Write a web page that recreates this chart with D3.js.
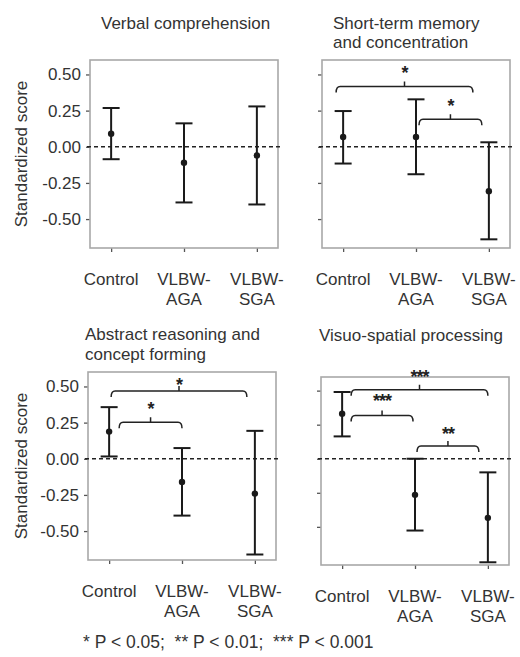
<!DOCTYPE html>
<html>
<head>
<meta charset="utf-8">
<script src="https://cdn.jsdelivr.net/npm/d3@7"></script>
<style>
  html, body { margin: 0; padding: 0; background: #fff; }
  svg { display: block; font-family: "Liberation Sans", Arial, sans-serif; }
</style>
</head>
<body>
<svg id="chart" width="520" height="657"></svg>
<script>
// Groups compared in every panel
const groups = ["Control", "VLBW-AGA", "VLBW-SGA"];
const groupLabelLines = [["Control"], ["VLBW-", "AGA"], ["VLBW-", "SGA"]];

// Panel titles (one entry per line)
const panelTitles = [
  ["Verbal comprehension"],
  ["Short-term memory", "and concentration"],
  ["Abstract reasoning and", "concept forming"],
  ["Visuo-spatial processing"]
];

// Mean standardized scores and their 95% confidence limits, per panel and group
const means = [
  [0.09, -0.11, -0.06],
  [0.068, 0.068, -0.307],
  [0.188, -0.16, -0.241],
  [0.331, -0.265, -0.434]
];
const lowerCI = [
  [-0.086, -0.385, -0.399],
  [-0.116, -0.19, -0.64],
  [0.016, -0.393, -0.662],
  [0.164, -0.527, -0.76]
];
const upperCI = [
  [0.268, 0.162, 0.279],
  [0.247, 0.328, 0.031],
  [0.357, 0.074, 0.193],
  [0.49, 0.0, -0.10]
];

// Y-axis ticks
const tickValues = [0.5, 0.25, 0, -0.25, -0.5];
const tickLabels = ["0.50", "0.25", "0.00", "-0.25", "-0.50"];

// Significant pairwise comparisons: [group index A, group index B, stars]
const comparisons = [
  [],
  [[0, 2, "*"], [1, 2, "*"]],
  [[0, 2, "*"], [0, 1, "*"]],
  [[0, 2, "***"], [0, 1, "***"], [1, 2, "**"]]
];

const yAxisTitle = "Standardized score";
const footnote = "* P < 0.05;  ** P < 0.01;  *** P < 0.001";

// ---- layout ----
const panels = [
  { x: 90,  y: 60,  w: 188, h: 188, domain: [-0.7, 0.6],  yLabels: true,  tx: 101, ty: 28.5 },
  { x: 322, y: 60,  w: 188, h: 188, domain: [-0.7, 0.6],  yLabels: false, tx: 333, ty: 28.5 },
  { x: 88,  y: 372, w: 188, h: 188, domain: [-0.7, 0.6],  yLabels: true,  tx: 85,  ty: 340 },
  { x: 321, y: 377, w: 188, h: 188, domain: [-0.78, 0.6], yLabels: false, tx: 319, ty: 341 }
];
// bracket level (data units), end offsets (px) and star gap (px)
const bracketLayout = [
  [],
  [{ level: 0.417, d0: -7, d1: -16, gap: 16 }, { level: 0.19, d0: 3, d1: -7, gap: 16 }],
  [{ level: 0.469, d0: 2, d1: -8, gap: 9 },   { level: 0.253, d0: 10, d1: 0, gap: 16 }],
  [{ level: 0.507, d0: 9, d1: 0, gap: 16 },   { level: 0.318, d0: 9, d1: -2, gap: 17 },
   { level: 0.093, d0: 2, d1: -9, gap: 15 }]
];

const textColor = "#333";
const frameColor = "#a8a8a8";
const inkColor = "#1a1a1a";
const fontSize = 17;

const svg = d3.select("#chart");

panels.forEach((p, i) => {
  const g = svg.append("g").attr("transform", `translate(${p.x},${p.y})`);

  const x = d3.scalePoint().domain(groups).range([0, p.w]).padding(0.29);
  const y = d3.scaleLinear().domain(p.domain).range([p.h, 0]);

  // title
  const title = svg.append("text")
    .attr("x", p.tx).attr("y", p.ty)
    .attr("fill", textColor).attr("font-size", fontSize);
  panelTitles[i].forEach((line, k) => {
    title.append("tspan").attr("x", p.tx).attr("dy", k === 0 ? 0 : 19.5).text(line);
  });

  // y axis
  const yAxis = d3.axisLeft(y).tickValues(tickValues).tickSize(4).tickPadding(5)
    .tickFormat((d, k) => p.yLabels ? tickLabels[k] : "");
  const ya = g.append("g").call(yAxis);
  ya.select(".domain").remove();
  ya.selectAll(".tick line").attr("stroke", "#555").attr("stroke-width", 1.3);
  ya.selectAll(".tick text").attr("fill", textColor)
    .attr("font-size", fontSize).attr("font-family", "Liberation Sans, Arial, sans-serif");

  // x axis
  const xAxis = d3.axisBottom(x).tickSize(4).tickFormat("");
  const xa = g.append("g").attr("transform", `translate(0,${p.h})`).call(xAxis);
  xa.select(".domain").remove();
  xa.selectAll(".tick line").attr("stroke", "#555").attr("stroke-width", 1.3);

  groups.forEach((grp, k) => {
    const t = g.append("text")
      .attr("x", x(grp)).attr("y", p.h + 36.5)
      .attr("text-anchor", "middle").attr("fill", textColor).attr("font-size", fontSize);
    groupLabelLines[k].forEach((line, j) => {
      t.append("tspan").attr("x", x(grp)).attr("dy", j === 0 ? 0 : 20).text(line);
    });
  });

  // frame
  g.append("rect").attr("width", p.w).attr("height", p.h)
    .attr("fill", "none").attr("stroke", frameColor).attr("stroke-width", 1.6);

  // zero reference line
  g.append("line")
    .attr("x1", -3).attr("x2", p.w + 2)
    .attr("y1", y(0)).attr("y2", y(0))
    .attr("stroke", "#222").attr("stroke-width", 1.5)
    .attr("stroke-dasharray", "4,3");

  // error bars
  const capHalf = 8.5;
  const bars = g.selectAll(".bar").data(groups).join("g").attr("class", "bar");
  bars.append("line")
    .attr("x1", d => x(d)).attr("x2", d => x(d))
    .attr("y1", (d, k) => y(lowerCI[i][k])).attr("y2", (d, k) => y(upperCI[i][k]))
    .attr("stroke", inkColor).attr("stroke-width", 2);
  bars.append("line")
    .attr("x1", d => x(d) - capHalf).attr("x2", d => x(d) + capHalf)
    .attr("y1", (d, k) => y(upperCI[i][k])).attr("y2", (d, k) => y(upperCI[i][k]))
    .attr("stroke", inkColor).attr("stroke-width", 2);
  bars.append("line")
    .attr("x1", d => x(d) - capHalf).attr("x2", d => x(d) + capHalf)
    .attr("y1", (d, k) => y(lowerCI[i][k])).attr("y2", (d, k) => y(lowerCI[i][k]))
    .attr("stroke", inkColor).attr("stroke-width", 2);
  bars.append("circle")
    .attr("cx", d => x(d)).attr("cy", (d, k) => y(means[i][k]))
    .attr("r", 3.2).attr("fill", inkColor);

  // significance brackets
  comparisons[i].forEach((c, k) => {
    const L = bracketLayout[i][k];
    const x0 = x(groups[c[0]]) + L.d0;
    const x1 = x(groups[c[1]]) + L.d1;
    const yy = y(L.level);
    const xm = (x0 + x1) / 2;
    const path = d3.path();
    path.moveTo(x0, yy + 6);
    path.quadraticCurveTo(x0, yy, x0 + 4, yy);
    path.lineTo(x1 - 4, yy);
    path.quadraticCurveTo(x1, yy, x1, yy + 6);
    path.moveTo(xm, yy);
    path.lineTo(xm, yy - 5);
    g.append("path").attr("d", path.toString())
      .attr("fill", "none").attr("stroke", "#222").attr("stroke-width", 1.5);
    g.append("text")
      .attr("x", xm).attr("y", yy - L.gap + 9)
      .attr("text-anchor", "middle").attr("fill", "#222")
      .attr("font-size", 18).attr("font-weight", "bold")
      .attr("letter-spacing", -1)
      .text(c[2]);
  });
});

// shared y-axis titles
[0, 2].forEach(i => {
  const p = panels[i];
  svg.append("text")
    .attr("transform", `translate(27,${p.y + p.h / 2}) rotate(-90)`)
    .attr("text-anchor", "middle").attr("fill", textColor).attr("font-size", fontSize)
    .text(yAxisTitle);
});

// significance legend
svg.append("text")
  .attr("x", 83).attr("y", 648)
  .attr("fill", textColor).attr("font-size", 17.5)
  .style("white-space", "pre")
  .text(footnote);
</script>
</body>
</html>
